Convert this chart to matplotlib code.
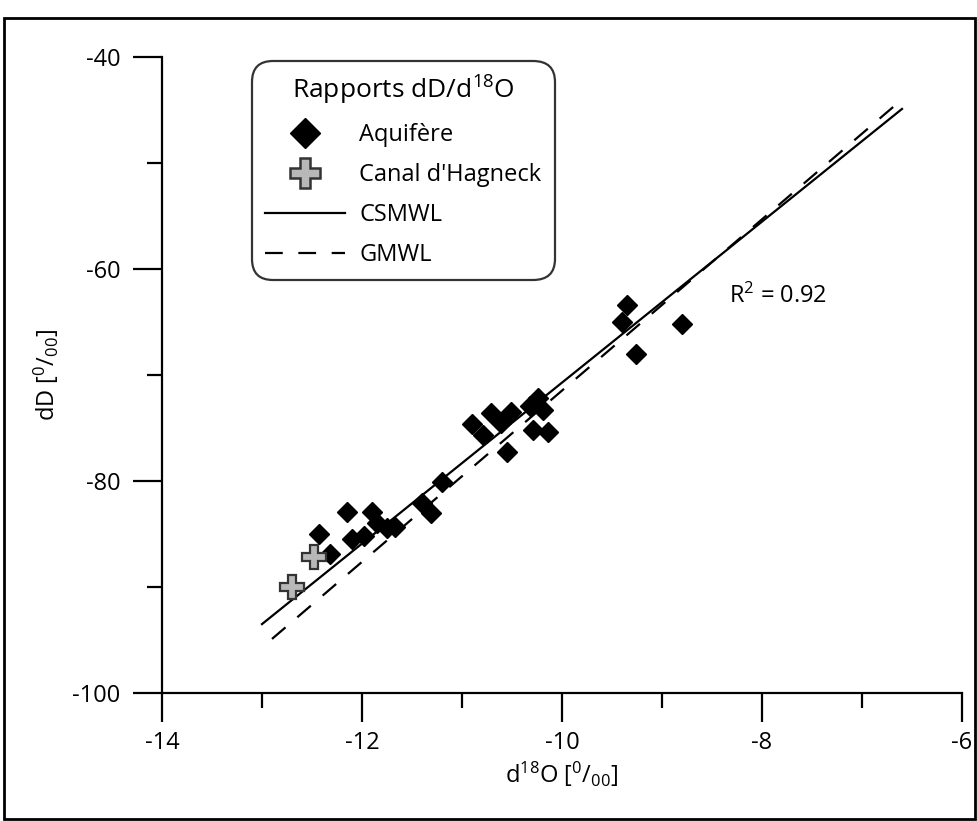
import matplotlib
matplotlib.use("Agg")
import matplotlib.pyplot as plt
from matplotlib.lines import Line2D
from matplotlib.patches import Rectangle

plt.rcParams['font.family'] = ['Open Sans', 'DejaVu Sans']
plt.rcParams['mathtext.fontset'] = 'custom'
plt.rcParams['mathtext.rm'] = 'Open Sans'
plt.rcParams['mathtext.it'] = 'Open Sans'
plt.rcParams['mathtext.default'] = 'regular'
plt.rcParams['axes.unicode_minus'] = False

# d18O / dD values
aquifer_d18o = [-9.35, -9.40, -8.80, -9.26, -10.24, -10.19, -10.32, -10.29, -10.14,
                -10.55, -10.71, -10.51, -10.61, -10.90, -10.79, -11.20, -11.40, -11.31,
                -12.15, -11.90, -12.43, -12.32, -12.10, -11.98, -11.85, -11.75, -11.67]
aquifer_dd = [-63.4, -65.0, -65.2, -68.0, -72.2, -73.3, -72.9, -75.2, -75.4,
              -77.3, -73.6, -73.5, -74.5, -74.6, -75.7, -80.1, -82.1, -83.0,
              -82.9, -82.9, -85.0, -86.9, -85.5, -85.2, -84.0, -84.4, -84.3]
canal_d18o = [-12.48, -12.70]
canal_dd = [-87.2, -90.0]

# meteoric water lines (end points)
csmwl_x = [-13.0, -6.6]
csmwl_y = [-93.5, -44.9]
gmwl_x = [-12.9, -6.6]
gmwl_y = [-94.9, -44.0]

r2_text = "R$^{2}$ = 0.92"

fig = plt.figure(figsize=(9.77, 8.21), dpi=100)
ax = fig.add_axes([162 / 977, 1 - 693 / 821, 800 / 977, 636 / 821])

ax.plot(csmwl_x, csmwl_y, color='black', lw=1.6, zorder=2)
ax.plot(gmwl_x, gmwl_y, color='black', lw=1.6, dashes=(8, 7), zorder=2)
ax.plot(aquifer_d18o, aquifer_dd, 'D', color='black', ms=10, mec='black', zorder=3)
ax.plot(canal_d18o, canal_dd, 'P', mfc='#b8b8b8', mec='#333333', mew=1.6, ms=17, zorder=4)

ax.text(-8.33, -62.6, r2_text, fontsize=17, va='center', ha='left')

ax.set_xlim(-14, -6)
ax.set_ylim(-100, -40)
ax.set_xticks([-14, -12, -10, -8, -6])
ax.set_xticks([-13, -11, -9, -7], minor=True)
ax.set_yticks([-100, -80, -60, -40])
ax.set_yticks([-90, -70, -50], minor=True)
ax.spines['top'].set_visible(False)
ax.spines['right'].set_visible(False)
for s in ['left', 'bottom']:
    ax.spines[s].set_linewidth(1.6)
ax.tick_params(which='major', direction='out', length=21, width=1.6, labelsize=17)
ax.tick_params(which='minor', direction='out', length=11, width=1.6)
ax.tick_params(axis='y', which='major', pad=9)
ax.tick_params(axis='x', which='major', pad=6)

ax.set_xlabel(r'd$^{18}$O [$^{0}$/$_{00}$]', fontsize=17, labelpad=4)
ax.set_ylabel(r'dD [$^{0}$/$_{00}$]', fontsize=17, labelpad=8)

handles = [
    Line2D([], [], ls='none', marker='D', color='black', ms=15),
    Line2D([], [], ls='none', marker='P', mfc='#b8b8b8', mec='#333333', mew=1.8, ms=21),
    Line2D([], [], color='black', lw=1.6),
    Line2D([], [], color='black', lw=1.6, dashes=(8, 7)),
]
labels = ['Aquifère', "Canal d'Hagneck", 'CSMWL', 'GMWL']
leg = ax.legend(handles, labels, loc='upper left',
                bbox_to_anchor=(252 / 977, 1 - 61 / 821), bbox_transform=fig.transFigure,
                title=r'Rapports dD/d$^{18}$O', title_fontsize=19, fontsize=17,
                handlelength=3.4, handletextpad=0.6, labelspacing=0.68,
                borderpad=0.55, borderaxespad=0, frameon=True, fancybox=True)
frame = leg.get_frame()
frame.set_edgecolor('black')
frame.set_linewidth(1.6)
frame.set_boxstyle('round,pad=0,rounding_size=0.9')

fig.patches.append(Rectangle((4 / 977, 2 / 821), 971 / 977, 801 / 821, fill=False,
                             ec='black', lw=2, transform=fig.transFigure, figure=fig))

fig.savefig('out.png', dpi=100)
